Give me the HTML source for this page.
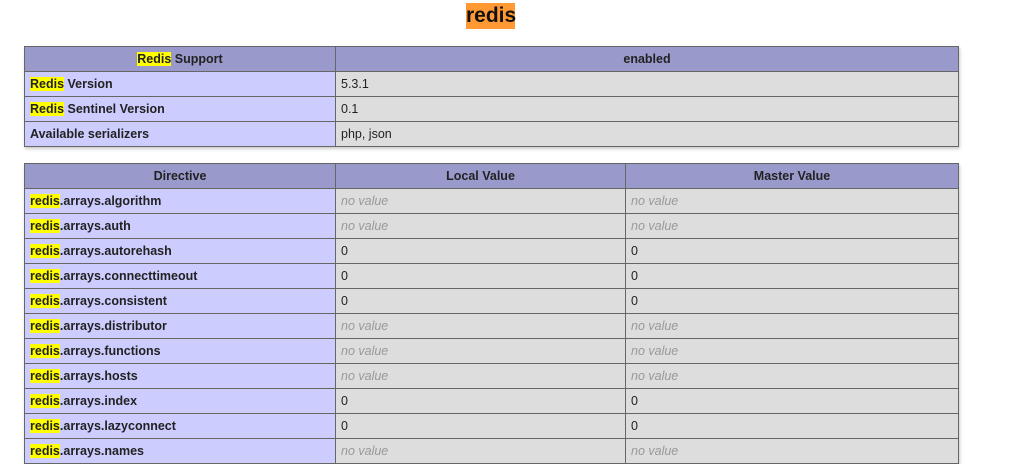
<!DOCTYPE html>
<html><head><meta charset="utf-8"><style>
body{margin:0;background:#fff;font-family:"Liberation Sans",Arial,sans-serif;font-size:12.5px;color:#222;width:1022px;height:448px;overflow:hidden;position:relative}
h2{position:absolute;left:466px;top:3px;margin:0;width:49px;height:26px;background:#f93;font-size:21px;font-weight:bold;line-height:26px;text-align:center;color:#111}
table{position:absolute;left:24px;border-collapse:collapse;table-layout:fixed;box-shadow:1px 2px 3px #ccc}
td,th{border:1px solid #666;height:24px;padding:0 0 0 5px;line-height:24px;white-space:nowrap;overflow:hidden;vertical-align:middle}
th{background:#99c;font-weight:bold;text-align:center;padding:0}
td.e{background:#ccf;font-weight:bold}
td.v{background:#ddd}
i{color:#999;font-style:italic}
.h{background:#ff0}
</style></head><body>
<h2>redis</h2>
<table style="top:46px;width:935px">
<colgroup><col style="width:311px"><col style="width:623px"></colgroup>
<tr><th><span class="h">Redis</span> Support</th><th>enabled</th></tr>
<tr><td class="e"><span class="h">Redis</span> Version</td><td class="v">5.3.1</td></tr>
<tr><td class="e"><span class="h">Redis</span> Sentinel Version</td><td class="v">0.1</td></tr>
<tr><td class="e">Available serializers</td><td class="v">php, json</td></tr>
</table>
<table style="top:163px;width:935px">
<colgroup><col style="width:311px"><col style="width:290px"><col style="width:333px"></colgroup>
<tr><th>Directive</th><th>Local Value</th><th>Master Value</th></tr>
<tr><td class="e"><span class="h">redis</span>.arrays.algorithm</td><td class="v"><i>no value</i></td><td class="v"><i>no value</i></td></tr>
<tr><td class="e"><span class="h">redis</span>.arrays.auth</td><td class="v"><i>no value</i></td><td class="v"><i>no value</i></td></tr>
<tr><td class="e"><span class="h">redis</span>.arrays.autorehash</td><td class="v">0</td><td class="v">0</td></tr>
<tr><td class="e"><span class="h">redis</span>.arrays.connecttimeout</td><td class="v">0</td><td class="v">0</td></tr>
<tr><td class="e"><span class="h">redis</span>.arrays.consistent</td><td class="v">0</td><td class="v">0</td></tr>
<tr><td class="e"><span class="h">redis</span>.arrays.distributor</td><td class="v"><i>no value</i></td><td class="v"><i>no value</i></td></tr>
<tr><td class="e"><span class="h">redis</span>.arrays.functions</td><td class="v"><i>no value</i></td><td class="v"><i>no value</i></td></tr>
<tr><td class="e"><span class="h">redis</span>.arrays.hosts</td><td class="v"><i>no value</i></td><td class="v"><i>no value</i></td></tr>
<tr><td class="e"><span class="h">redis</span>.arrays.index</td><td class="v">0</td><td class="v">0</td></tr>
<tr><td class="e"><span class="h">redis</span>.arrays.lazyconnect</td><td class="v">0</td><td class="v">0</td></tr>
<tr><td class="e"><span class="h">redis</span>.arrays.names</td><td class="v"><i>no value</i></td><td class="v"><i>no value</i></td></tr>
</table>
</body></html>
